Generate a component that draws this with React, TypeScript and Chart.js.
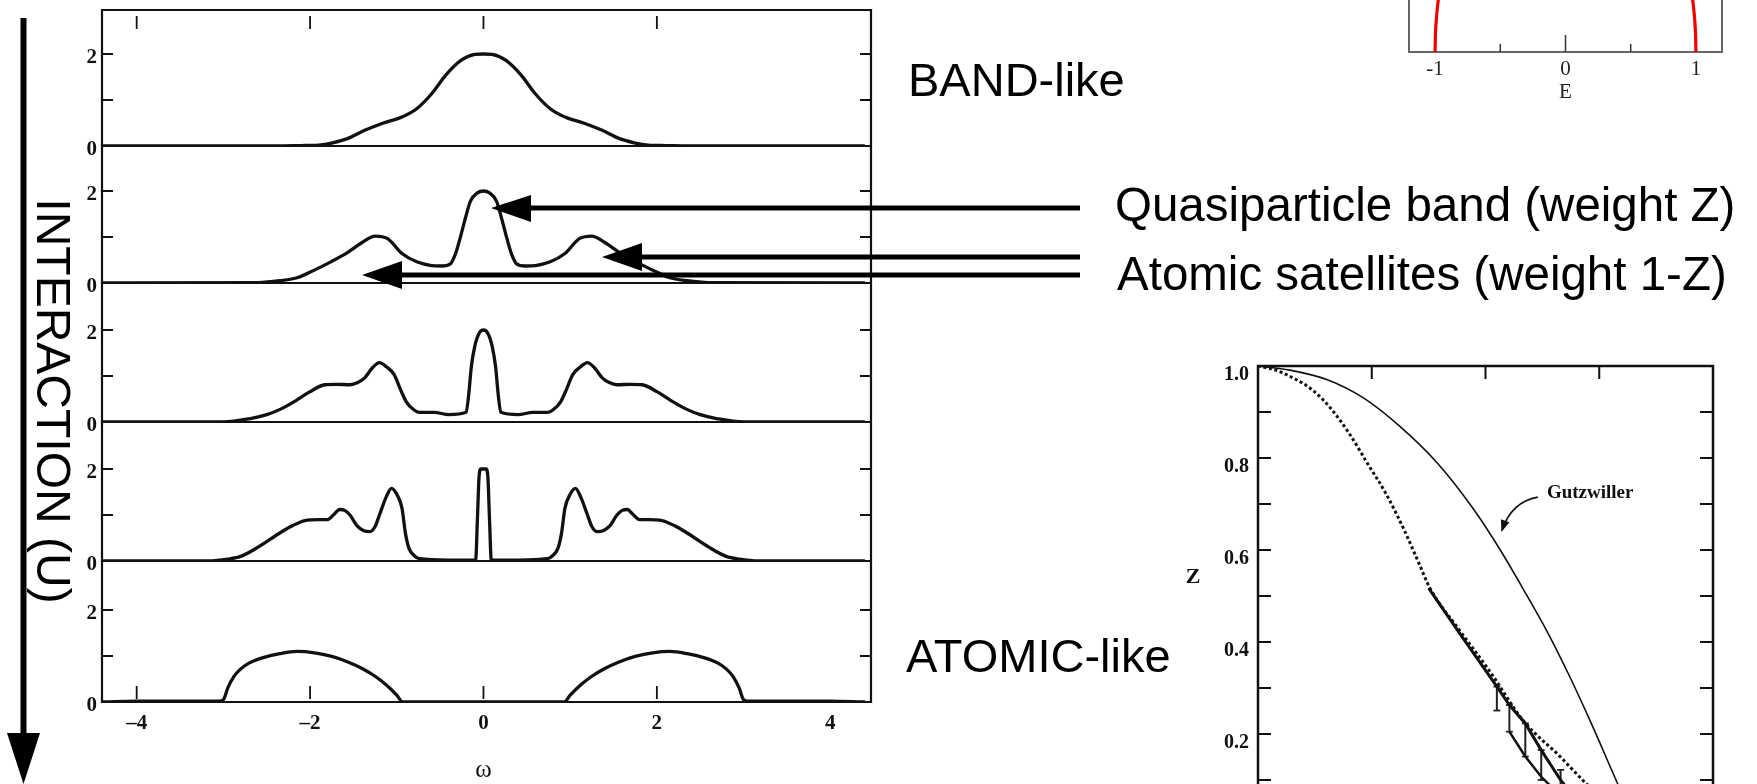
import React, { useEffect, useRef } from "react";
import { Chart, registerables } from "chart.js";

Chart.register(...registerables);

// ---------------- data ----------------
// Spectral functions A(omega), one panel per interaction strength
const bandOmega = [-4.4, -2.5, -2.1, -1.9, -1.74, -1.57, -1.37, -1.17, -0.94, -0.77, -0.6, -0.43, -0.26, -0.1, 0, 0.1, 0.26, 0.43, 0.6, 0.77, 0.94, 1.17, 1.37, 1.57, 1.74, 1.9, 2.1, 2.5, 4.4];
const bandA = [0, 0, 0.01, 0.02, 0.07, 0.16, 0.34, 0.49, 0.63, 0.81, 1.13, 1.55, 1.86, 1.99, 2.0, 1.99, 1.86, 1.55, 1.13, 0.81, 0.63, 0.49, 0.34, 0.16, 0.07, 0.02, 0.01, 0, 0];

const weakOmega = [-4.4, -2.6, -2.35, -2.14, -1.95, -1.75, -1.57, -1.4, -1.25, -1.11, -0.94, -0.77, -0.6, -0.48, -0.38, -0.32, -0.27, -0.21, -0.15, -0.07, 0, 0.07, 0.15, 0.21, 0.27, 0.32, 0.38, 0.48, 0.6, 0.77, 0.94, 1.11, 1.25, 1.4, 1.57, 1.75, 1.95, 2.14, 2.35, 2.6, 4.4];
const weakA = [0, 0.01, 0.05, 0.12, 0.28, 0.47, 0.66, 0.88, 1.02, 0.97, 0.64, 0.46, 0.38, 0.37, 0.42, 0.65, 0.97, 1.4, 1.78, 1.96, 2.0, 1.96, 1.78, 1.4, 0.97, 0.65, 0.42, 0.37, 0.38, 0.46, 0.64, 0.97, 1.02, 0.88, 0.66, 0.47, 0.28, 0.12, 0.05, 0.01, 0];

const midOmega = [-4.4, -3.0, -2.7, -2.5, -2.34, -2.15, -2.0, -1.83, -1.7, -1.54, -1.45, -1.37, -1.28, -1.2, -1.12, -1.03, -0.96, -0.89, -0.8, -0.74, -0.57, -0.4, -0.2, -0.17, -0.14, -0.1, -0.05, 0, 0.05, 0.1, 0.14, 0.17, 0.2, 0.4, 0.57, 0.74, 0.8, 0.89, 0.96, 1.03, 1.12, 1.2, 1.28, 1.37, 1.45, 1.54, 1.7, 1.83, 2.0, 2.15, 2.34, 2.5, 2.7, 3.0, 4.4];
const midA = [0, 0, 0.07, 0.16, 0.28, 0.48, 0.66, 0.81, 0.82, 0.81, 0.86, 0.96, 1.18, 1.29, 1.2, 1.03, 0.72, 0.44, 0.26, 0.21, 0.21, 0.16, 0.21, 0.6, 1.2, 1.65, 1.93, 2.0, 1.93, 1.65, 1.2, 0.6, 0.21, 0.16, 0.21, 0.21, 0.26, 0.44, 0.72, 1.03, 1.2, 1.29, 1.18, 0.96, 0.86, 0.81, 0.82, 0.81, 0.66, 0.48, 0.28, 0.16, 0.07, 0, 0];

const strongOmega = [-4.4, -3.17, -2.95, -2.8, -2.6, -2.34, -2.2, -2.06, -1.9, -1.8, -1.72, -1.66, -1.6, -1.54, -1.46, -1.38, -1.31, -1.25, -1.2, -1.12, -1.06, -1.0, -0.94, -0.9, -0.86, -0.8, -0.74, -0.4, -0.09, -0.07, -0.05, -0.03, 0, 0.03, 0.05, 0.07, 0.09, 0.4, 0.74, 0.8, 0.86, 0.9, 0.94, 1.0, 1.06, 1.12, 1.2, 1.25, 1.31, 1.38, 1.46, 1.54, 1.6, 1.66, 1.72, 1.8, 1.9, 2.06, 2.2, 2.34, 2.6, 2.8, 2.95, 3.17, 4.4];
const strongA = [0, 0, 0.04, 0.1, 0.3, 0.62, 0.77, 0.88, 0.9, 0.9, 1.02, 1.12, 1.1, 1.0, 0.77, 0.66, 0.64, 0.75, 1.0, 1.4, 1.58, 1.45, 1.15, 0.6, 0.28, 0.12, 0.05, 0.02, 0.02, 0.9, 1.85, 2.0, 2.0, 2.0, 1.85, 0.9, 0.02, 0.02, 0.05, 0.12, 0.28, 0.6, 1.15, 1.45, 1.58, 1.4, 1.0, 0.75, 0.64, 0.66, 0.77, 1.0, 1.1, 1.12, 1.02, 0.9, 0.9, 0.88, 0.77, 0.62, 0.3, 0.1, 0.04, 0, 0];

const atomicOmega = [-4.4, -4.0, -3.05, -3.0, -2.95, -2.88, -2.8, -2.7, -2.55, -2.35, -2.15, -1.95, -1.75, -1.55, -1.4, -1.25, -1.12, -1.0, -0.93, 0.93, 1.0, 1.12, 1.25, 1.4, 1.55, 1.75, 1.95, 2.15, 2.35, 2.55, 2.7, 2.8, 2.88, 2.95, 3.0, 3.05, 4.0, 4.4];
const atomicA = [0, 0.02, 0.02, 0.05, 0.3, 0.55, 0.72, 0.85, 0.96, 1.05, 1.1, 1.07, 0.99, 0.86, 0.73, 0.56, 0.37, 0.15, 0, 0, 0.15, 0.37, 0.56, 0.73, 0.86, 0.99, 1.07, 1.1, 1.05, 0.96, 0.85, 0.72, 0.55, 0.3, 0.05, 0.02, 0.02, 0];

const omegaTickLabels = [-4, -2, 0, 2, 4];
const omegaBottomMarks = [-4, -2, 0, 2];
const omegaTopMarks = [-4, -2, 0, 2];
const spectralTickValues = [1, 2];
const spectralTickLabels = [0, 2];

// Semicircular non-interacting DOS (only its lower part is visible)
const dosE = [-1, -0.998, -0.995, -0.99, -0.985, -0.98, -0.97, -0.96, -0.95, -0.9, -0.8, -0.6, -0.4, -0.2, 0, 0.2, 0.4, 0.6, 0.8, 0.9, 0.95, 0.96, 0.97, 0.98, 0.985, 0.99, 0.995, 0.998, 1];
const dosRho = [0, 0.04, 0.064, 0.09, 0.11, 0.127, 0.155, 0.178, 0.199, 0.277, 0.382, 0.509, 0.583, 0.624, 0.637, 0.624, 0.583, 0.509, 0.382, 0.277, 0.199, 0.178, 0.155, 0.127, 0.11, 0.09, 0.064, 0.04, 0];
const dosMajorTicks = [-1, 0, 1];
const dosMinorTicks = [-0.5, 0.5];

// Quasiparticle weight Z versus U
const gutzU = [0, 0.28, 0.61, 0.93, 1.25, 1.58, 1.9, 2.13, 2.32, 2.55, 2.74, 2.93, 3.16, 3.33];
const gutzZ = [1, 0.991, 0.97, 0.93, 0.868, 0.788, 0.687, 0.6, 0.52, 0.419, 0.325, 0.223, 0.093, 0];
const iptU = [0, 0.155, 0.316, 0.478, 0.639, 0.8, 0.963, 1.124, 1.286, 1.415, 1.512, 1.77, 2.03, 2.336, 2.655, 2.89, 3.1, 3.3];
const iptZ = [1, 0.991, 0.973, 0.948, 0.908, 0.854, 0.788, 0.723, 0.643, 0.571, 0.517, 0.426, 0.339, 0.228, 0.151, 0.091, 0.045, 0];
const qmcU = [1.5, 1.77, 2.1, 2.21, 2.35, 2.49, 2.66, 2.8];
const qmcZ = [0.517, 0.42, 0.303, 0.263, 0.223, 0.165, 0.1, 0.055];
const qmcLowU = [2.21, 2.35, 2.49, 2.6];
const qmcLowZ = [0.205, 0.151, 0.107, 0.08];
const errU = [2.1, 2.21, 2.35, 2.49, 2.66];
const errHigh = [0.303, 0.263, 0.223, 0.165, 0.122];
const errLow = [0.251, 0.205, 0.151, 0.1, 0.07];
const zTickValues = [0.1, 0.2, 0.3, 0.4, 0.5, 0.6, 0.7, 0.8, 0.9, 1.0];
const zTickLabels = [0.2, 0.4, 0.6, 0.8, 1.0];
const uTickValues = [1, 2, 3];

// ---------------- layout ----------------
const SERIF = '"Liberation Serif", "DejaVu Serif", serif';
const SANS = '"Liberation Sans", Arial, sans-serif';
const PAGE_W = 1757;
const PAGE_H = 784;

const PANEL_LEFT = 102;
const PANEL_RIGHT = 871;
const PANEL_CANVAS_W = 900;
const PANEL_TOPS = [10, 146, 283, 422, 561];
const PANEL_BASES = [146, 283, 422, 561, 702];
const PX_PER_UNIT = 46;
const OMEGA_MIN = -4.4;
const OMEGA_MAX = 4.47;

const panelOmegas = [bandOmega, weakOmega, midOmega, strongOmega, atomicOmega];
const panelAs = [bandA, weakA, midA, strongA, atomicA];

function fmtTick(v: number) {
  return v < 0 ? "\u2013" + Math.abs(v) : String(v);
}

function panelRect(i: number) {
  const top = PANEL_TOPS[i] - 14;
  const bottom = i === 4 ? PAGE_H : PANEL_BASES[i] + 14;
  return { left: 0, top, width: PANEL_CANVAS_W, height: bottom - top };
}

function buildPanel(el: HTMLCanvasElement, i: number) {
  const r = panelRect(i);
  const top = PANEL_TOPS[i];
  const base = PANEL_BASES[i];
  const first = i === 0;
  const last = i === 4;
  const omega = panelOmegas[i];
  const A = panelAs[i];
  const deco = {
    id: "panelDeco",
    afterDatasetsDraw(chart: any) {
      const { ctx, chartArea: ca, scales } = chart;
      const xs = scales.x;
      const ys = scales.y;
      ctx.save();
      ctx.strokeStyle = "#111";
      ctx.lineWidth = 2.2;
      ctx.beginPath();
      ctx.moveTo(ca.left, ca.top - (first ? 1 : 0));
      ctx.lineTo(ca.left, ca.bottom + 1);
      ctx.moveTo(ca.right, ca.top - (first ? 1 : 0));
      ctx.lineTo(ca.right, ca.bottom + 1);
      ctx.moveTo(ca.left - 1, ca.bottom);
      ctx.lineTo(ca.right + 1, ca.bottom);
      if (first) {
        ctx.moveTo(ca.left - 1, ca.top);
        ctx.lineTo(ca.right + 1, ca.top);
      }
      ctx.stroke();
      ctx.lineWidth = 1.8;
      ctx.beginPath();
      for (const v of spectralTickValues) {
        const y = ys.getPixelForValue(v);
        ctx.moveTo(ca.left, y);
        ctx.lineTo(ca.left + 11, y);
        ctx.moveTo(ca.right, y);
        ctx.lineTo(ca.right - 11, y);
      }
      if (first) {
        for (const v of omegaTopMarks) {
          const x = xs.getPixelForValue(v);
          ctx.moveTo(x, ca.top + 6);
          ctx.lineTo(x, ca.top + 19);
        }
      }
      if (last) {
        for (const v of omegaBottomMarks) {
          const x = xs.getPixelForValue(v);
          ctx.moveTo(x, ca.bottom - 3);
          ctx.lineTo(x, ca.bottom - 16);
        }
      }
      ctx.stroke();
      ctx.fillStyle = "#111";
      ctx.font = `bold 21px ${SERIF}`;
      ctx.textAlign = "right";
      ctx.textBaseline = "middle";
      for (const v of spectralTickLabels) {
        ctx.fillText(String(v), ca.left - 5, ys.getPixelForValue(v) + 4);
      }
      if (last) {
        ctx.textAlign = "center";
        for (const v of omegaTickLabels) {
          ctx.fillText(fmtTick(v), xs.getPixelForValue(v), ca.bottom + 22);
        }
        ctx.font = `25px ${SERIF}`;
        ctx.fillText("\u03c9", xs.getPixelForValue(0), ca.bottom + 68);
      }
      ctx.restore();
    },
  };
  return new Chart(el, {
    type: "line",
    data: {
      datasets: [
        {
          data: omega.map((x, k) => ({ x, y: A[k] })),
          borderColor: "#111",
          borderWidth: 3.3,
          pointRadius: 0,
          fill: false,
          cubicInterpolationMode: "monotone",
        },
      ],
    },
    options: {
      responsive: false,
      maintainAspectRatio: false,
      animation: false,
      events: [],
      layout: {
        padding: {
          left: PANEL_LEFT,
          right: r.width - PANEL_RIGHT,
          top: top - r.top,
          bottom: r.top + r.height - base,
        },
      },
      scales: {
        x: { type: "linear", min: OMEGA_MIN, max: OMEGA_MAX, display: false },
        y: { type: "linear", min: 0, max: (base - top) / PX_PER_UNIT, display: false },
      },
      plugins: { legend: { display: false }, tooltip: { enabled: false } },
    },
    plugins: [deco],
  } as any);
}

// Semicircle DOS chart (top right, cut by the page edge)
const DOS_RECT = { left: 1380, top: -240, width: 377, height: 350 };
function buildDos(el: HTMLCanvasElement) {
  const deco = {
    id: "dosDeco",
    beforeDatasetsDraw(chart: any) {
      const { ctx, chartArea: ca, scales } = chart;
      const xs = scales.x;
      ctx.save();
      ctx.strokeStyle = "#666";
      ctx.lineWidth = 2;
      ctx.beginPath();
      ctx.moveTo(ca.left, ca.top);
      ctx.lineTo(ca.left, ca.bottom);
      ctx.lineTo(ca.right, ca.bottom);
      ctx.lineTo(ca.right, ca.top);
      ctx.closePath();
      ctx.stroke();
      ctx.strokeStyle = "#333";
      ctx.lineWidth = 1.5;
      ctx.beginPath();
      for (const v of dosMajorTicks) {
        const x = xs.getPixelForValue(v);
        ctx.moveTo(x, ca.bottom);
        ctx.lineTo(x, ca.bottom - 17);
      }
      for (const v of dosMinorTicks) {
        const x = xs.getPixelForValue(v);
        ctx.moveTo(x, ca.bottom);
        ctx.lineTo(x, ca.bottom - 8);
      }
      ctx.stroke();
      ctx.fillStyle = "#222";
      ctx.font = `21px ${SERIF}`;
      ctx.textAlign = "center";
      ctx.textBaseline = "middle";
      for (const v of dosMajorTicks) {
        ctx.fillText(String(v), xs.getPixelForValue(v), ca.bottom + 17);
      }
      ctx.fillText("E", xs.getPixelForValue(0), ca.bottom + 40);
      ctx.restore();
    },
  };
  return new Chart(el, {
    type: "line",
    data: {
      datasets: [
        {
          data: dosE.map((x, k) => ({ x, y: dosRho[k] })),
          borderColor: "#ee0000",
          borderWidth: 3.2,
          pointRadius: 0,
          fill: false,
          cubicInterpolationMode: "monotone",
        },
      ],
    },
    options: {
      responsive: false,
      maintainAspectRatio: false,
      animation: false,
      events: [],
      layout: { padding: { left: 29, right: 35, top: 14.5, bottom: 58 } },
      scales: {
        x: { type: "linear", min: -1.2, max: 1.2, display: false },
        y: { type: "linear", min: 0, max: 0.75, display: false },
      },
      plugins: { legend: { display: false }, tooltip: { enabled: false } },
    },
    plugins: [deco],
  } as any);
}

// Z(U) chart (bottom right, cut by the page edge)
const Z_RECT = { left: 1180, top: 340, width: 577, height: 500 };
const GUTZ_LABEL = { u: 2.54, z: 0.724 };
const GUTZ_ARROW = { u0: 2.46, z0: 0.715, uc: 2.23, zc: 0.705, u1: 2.145, z1: 0.643 };
function buildZ(el: HTMLCanvasElement) {
  const deco = {
    id: "zDeco",
    afterDatasetsDraw(chart: any) {
      const { ctx, chartArea: ca, scales } = chart;
      const xs = scales.x;
      const ys = scales.y;
      ctx.save();
      ctx.strokeStyle = "#111";
      ctx.lineWidth = 2.5;
      ctx.beginPath();
      ctx.moveTo(ca.left, ca.bottom);
      ctx.lineTo(ca.left, ca.top);
      ctx.lineTo(ca.right, ca.top);
      ctx.lineTo(ca.right, ca.bottom);
      ctx.stroke();
      ctx.lineWidth = 2;
      ctx.beginPath();
      for (const v of zTickValues) {
        const y = ys.getPixelForValue(v);
        ctx.moveTo(ca.left, y);
        ctx.lineTo(ca.left + 13, y);
        ctx.moveTo(ca.right, y);
        ctx.lineTo(ca.right - 13, y);
      }
      for (const v of uTickValues) {
        const x = xs.getPixelForValue(v);
        ctx.moveTo(x, ca.top);
        ctx.lineTo(x, ca.top + 13);
      }
      ctx.stroke();
      ctx.fillStyle = "#111";
      ctx.font = `bold 20px ${SERIF}`;
      ctx.textAlign = "right";
      ctx.textBaseline = "middle";
      for (const v of zTickLabels) {
        ctx.fillText(v.toFixed(1), ca.left - 9, ys.getPixelForValue(v) + 9);
      }
      ctx.textAlign = "center";
      ctx.font = `bold 22px ${SERIF}`;
      ctx.fillText("Z", ca.left - 65, ys.getPixelForValue(0.54));
      ctx.textAlign = "left";
      ctx.font = `bold 19px ${SERIF}`;
      ctx.fillText("Gutzwiller", xs.getPixelForValue(GUTZ_LABEL.u), ys.getPixelForValue(GUTZ_LABEL.z));
      // curved arrow pointing at the Gutzwiller curve
      const x0 = xs.getPixelForValue(GUTZ_ARROW.u0);
      const y0 = ys.getPixelForValue(GUTZ_ARROW.z0);
      const xc = xs.getPixelForValue(GUTZ_ARROW.uc);
      const yc = ys.getPixelForValue(GUTZ_ARROW.zc);
      const x1 = xs.getPixelForValue(GUTZ_ARROW.u1);
      const y1 = ys.getPixelForValue(GUTZ_ARROW.z1);
      ctx.lineWidth = 1.6;
      ctx.beginPath();
      ctx.moveTo(x0, y0);
      ctx.quadraticCurveTo(xc, yc, x1, y1);
      ctx.stroke();
      const ang = Math.atan2(y1 - yc, x1 - xc);
      const L = 10;
      const Wd = 4.5;
      ctx.beginPath();
      ctx.moveTo(x1 + Math.cos(ang) * 2, y1 + Math.sin(ang) * 2);
      ctx.lineTo(x1 - Math.cos(ang) * L + Math.sin(ang) * Wd, y1 - Math.sin(ang) * L - Math.cos(ang) * Wd);
      ctx.lineTo(x1 - Math.cos(ang) * L - Math.sin(ang) * Wd, y1 - Math.sin(ang) * L + Math.cos(ang) * Wd);
      ctx.closePath();
      ctx.fill();
      ctx.restore();
    },
  };
  const errData: any[] = [];
  errU.forEach((u, k) => {
    errData.push({ x: u, y: errHigh[k] }, { x: u, y: errLow[k] }, { x: u, y: null });
  });
  return new Chart(el, {
    type: "line",
    data: {
      datasets: [
        {
          data: gutzU.map((x, k) => ({ x, y: gutzZ[k] })),
          borderColor: "#111",
          borderWidth: 1.6,
          pointRadius: 0,
          cubicInterpolationMode: "monotone",
        },
        {
          data: iptU.map((x, k) => ({ x, y: iptZ[k] })),
          borderColor: "#111",
          borderWidth: 3,
          borderDash: [3, 2.6],
          pointRadius: 0,
          cubicInterpolationMode: "monotone",
        },
        {
          data: qmcU.map((x, k) => ({ x, y: qmcZ[k] })),
          borderColor: "#111",
          borderWidth: 3,
          pointRadius: 0,
          tension: 0,
        },
        {
          data: qmcLowU.map((x, k) => ({ x, y: qmcLowZ[k] })),
          borderColor: "#111",
          borderWidth: 2.5,
          pointRadius: 0,
          tension: 0,
        },
        {
          data: errData,
          borderColor: "#222",
          borderWidth: 2,
          pointStyle: "line",
          pointRadius: 3.5,
          pointBorderWidth: 1.8,
          pointBorderColor: "#222",
          spanGaps: false,
          tension: 0,
        },
      ],
    },
    options: {
      responsive: false,
      maintainAspectRatio: false,
      animation: false,
      events: [],
      layout: { padding: { left: 78, right: 44, top: 26, bottom: 14 } },
      scales: {
        x: { type: "linear", min: 0, max: 4, display: false },
        y: { type: "linear", min: 0, max: 1, display: false },
      },
      plugins: { legend: { display: false }, tooltip: { enabled: false } },
    },
    plugins: [deco],
  } as any);
}

type Rect = { left: number; top: number; width: number; height: number };
function ChartCanvas({ rect, build }: { rect: Rect; build: (el: HTMLCanvasElement) => Chart }) {
  const ref = useRef<HTMLCanvasElement>(null);
  useEffect(() => {
    const chart = build(ref.current as HTMLCanvasElement);
    return () => chart.destroy();
  }, []);
  return (
    <canvas
      ref={ref}
      width={rect.width}
      height={rect.height}
      style={{ position: "absolute", left: rect.left, top: rect.top, width: rect.width, height: rect.height }}
    />
  );
}

const textStyle = (left: number, baseline: number, size = 47): React.CSSProperties => ({
  position: "absolute",
  left,
  top: baseline - size * 0.847,
  font: `${size}px ${SANS}`,
  lineHeight: `${size}px`,
  whiteSpace: "nowrap",
  color: "#000",
});

export default function App() {
  return (
    <div
      style={{
        position: "fixed",
        left: 0,
        top: 0,
        width: PAGE_W,
        height: PAGE_H,
        overflow: "hidden",
        background: "#fff",
      }}
    >
      {[0, 1, 2, 3, 4].map((i) => (
        <ChartCanvas key={i} rect={panelRect(i)} build={(el) => buildPanel(el, i)} />
      ))}
      <ChartCanvas rect={DOS_RECT} build={buildDos} />
      <ChartCanvas rect={Z_RECT} build={buildZ} />

      <svg
        width={PAGE_W}
        height={PAGE_H}
        style={{ position: "absolute", left: 0, top: 0, pointerEvents: "none" }}
      >
        <line x1={23.5} y1={18} x2={23.5} y2={740} stroke="#000" strokeWidth={6} />
        <polygon points="7,733 40,733 23.5,784" fill="#000" />
        <line x1={528} y1={208} x2={1080} y2={208} stroke="#000" strokeWidth={5} />
        <polygon points="491,208 531,195 531,222" fill="#000" />
        <line x1={639} y1={257} x2={1080} y2={257} stroke="#000" strokeWidth={5} />
        <polygon points="602,257 642,243 642,271" fill="#000" />
        <line x1={399} y1={275} x2={1080} y2={275} stroke="#000" strokeWidth={5} />
        <polygon points="362,275 402,261 402,289" fill="#000" />
      </svg>

      <div
        style={{
          position: "absolute",
          left: 53,
          top: 401,
          transform: "translate(-50%, -50%) rotate(90deg)",
          font: `48px ${SANS}`,
          lineHeight: "48px",
          whiteSpace: "nowrap",
          color: "#000",
        }}
      >
        INTERACTION (U)
      </div>
      <div style={textStyle(908, 96)}>BAND-like</div>
      <div style={textStyle(906, 672)}>ATOMIC-like</div>
      <div style={textStyle(1115, 221, 47.5)}>Quasiparticle band (weight Z)</div>
      <div style={textStyle(1117, 290, 47.5)}>Atomic satellites (weight 1-Z)</div>
    </div>
  );
}
